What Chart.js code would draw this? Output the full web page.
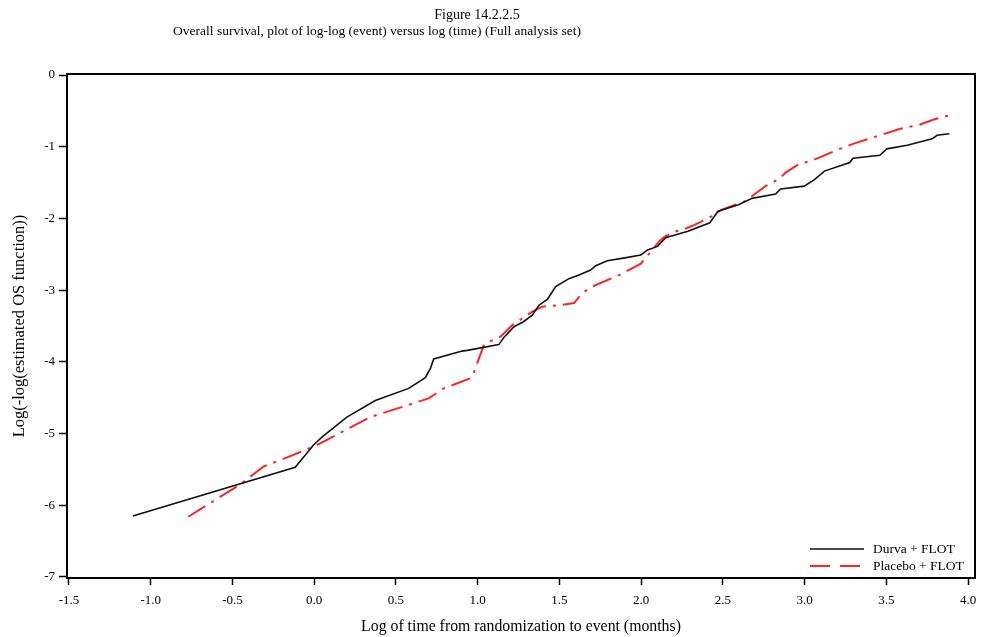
<!DOCTYPE html>
<html>
<head>
<meta charset="utf-8">
<script src="https://cdn.jsdelivr.net/npm/chart.js@4.4.1/dist/chart.umd.min.js"></script>
<style>
html,body{margin:0;padding:0;background:#fff;}
#wrap{width:981px;height:637px;position:relative;}
</style>
</head>
<body>
<div id="wrap"><canvas id="c" width="981" height="637"></canvas></div>
<script>
const titleLines = ['Figure 14.2.2.5', 'Overall survival, plot of log-log (event) versus log (time) (Full analysis set)'];
const seriesNames = ['Durva + FLOT', 'Placebo + FLOT'];
const xAxisTitle = 'Log of time from randomization to event (months)';
const yAxisTitle = 'Log(-log(estimated OS function))';

const durvaX = [-1.109, -0.116, -0.004, 0.047, 0.2, 0.374, 0.578, 0.68, 0.711, 0.731, 0.905, 0.936, 1.129, 1.16, 1.222, 1.28, 1.334, 1.375, 1.426, 1.477, 1.558, 1.62, 1.691, 1.722, 1.793, 1.9, 1.998, 2.039, 2.1, 2.15, 2.286, 2.42, 2.47, 2.595, 2.678, 2.822, 2.853, 2.997, 3.06, 3.121, 3.276, 3.296, 3.46, 3.503, 3.627, 3.78, 3.81, 3.885];
const durvaY = [-6.15, -5.47, -5.16, -5.05, -4.77, -4.54, -4.37, -4.22, -4.09, -3.96, -3.85, -3.84, -3.76, -3.66, -3.51, -3.44, -3.35, -3.21, -3.13, -2.95, -2.84, -2.79, -2.72, -2.66, -2.59, -2.55, -2.51, -2.44, -2.39, -2.27, -2.18, -2.06, -1.9, -1.81, -1.72, -1.66, -1.59, -1.55, -1.46, -1.34, -1.22, -1.16, -1.12, -1.03, -0.98, -0.89, -0.84, -0.82];

const placeboX = [-0.77, -0.453, -0.31, -0.075, 0.016, 0.343, 0.7, 0.792, 0.966, 1.0, 1.037, 1.048, 1.14, 1.211, 1.334, 1.395, 1.507, 1.589, 1.64, 1.701, 1.865, 1.998, 2.049, 2.11, 2.14, 2.2, 2.273, 2.327, 2.45, 2.49, 2.636, 2.76, 2.843, 2.884, 2.966, 3.049, 3.193, 3.296, 3.42, 3.585, 3.707, 3.79, 3.905];
const placeboY = [-6.16, -5.71, -5.46, -5.25, -5.16, -4.77, -4.51, -4.37, -4.22, -4.0, -3.77, -3.74, -3.65, -3.49, -3.3, -3.23, -3.21, -3.18, -3.04, -2.95, -2.79, -2.63, -2.49, -2.32, -2.26, -2.19, -2.14, -2.09, -1.95, -1.88, -1.76, -1.55, -1.45, -1.36, -1.24, -1.19, -1.05, -0.96, -0.87, -0.75, -0.69, -0.62, -0.55];

const xTickValues = [-1.5, -1.0, -0.5, 0.0, 0.5, 1.0, 1.5, 2.0, 2.5, 3.0, 3.5, 4.0];
const xTickLabels = ['-1.5', '-1.0', '-0.5', '0.0', '0.5', '1.0', '1.5', '2.0', '2.5', '3.0', '3.5', '4.0'];
const yTickValues = [-7, -6, -5, -4, -3, -2, -1, 0];
const yTickLabels = ['-7', '-6', '-5', '-4', '-3', '-2', '-1', '0'];

const FONT = "'Liberation Serif', 'Times New Roman', serif";
Chart.defaults.font.family = FONT;
Chart.defaults.color = '#000';

const toPts = (xs, ys) => xs.map((x, i) => ({x: x, y: ys[i]}));

const decor = {
  id: 'decor',
  afterDraw(chart) {
    const ctx = chart.ctx;
    const a = chart.chartArea;
    ctx.save();
    ctx.strokeStyle = '#000';
    ctx.lineWidth = 2;
    ctx.setLineDash([]);
    ctx.strokeRect(a.left, a.top, a.right - a.left, a.bottom - a.top);
    ctx.fillStyle = '#000';
    ctx.textAlign = 'center';
    ctx.textBaseline = 'middle';
    ctx.font = '14px ' + FONT;
    ctx.fillText(titleLines[0], 477, 15);
    ctx.font = '13.5px ' + FONT;
    ctx.fillText(titleLines[1], 377, 31);
    const ds = chart.data.datasets;
    const rows = [549, 566];
    ds.forEach((d, i) => {
      const y = rows[i];
      ctx.beginPath();
      ctx.strokeStyle = d.borderColor;
      ctx.lineWidth = d.borderWidth;
      ctx.setLineDash(i === 1 ? [20, 10] : []);
      ctx.moveTo(810, y);
      ctx.lineTo(864, y);
      ctx.stroke();
      ctx.setLineDash([]);
      ctx.textAlign = 'left';
      ctx.font = '13.5px ' + FONT;
      ctx.fillText(d.label, 873, y);
    });
    ctx.restore();
  }
};

new Chart(document.getElementById('c'), {
  type: 'scatter',
  data: {
    datasets: [
      {label: seriesNames[0], data: toPts(durvaX, durvaY), showLine: true, borderColor: '#111111', borderWidth: 1.6, pointRadius: 0, tension: 0, fill: false},
      {label: seriesNames[1], data: toPts(placeboX, placeboY), showLine: true, borderColor: '#ff2424', borderWidth: 2, borderDash: [20, 7, 3, 7], pointRadius: 0, tension: 0, fill: false}
    ]
  },
  options: {
    responsive: false,
    animation: false,
    devicePixelRatio: 1,
    layout: {padding: {top: 74, right: 6, left: 0, bottom: 0}},
    plugins: {legend: {display: false}, tooltip: {enabled: false}, title: {display: false}},
    scales: {
      x: {
        type: 'linear', min: -1.512, max: 4.042,
        afterBuildTicks: s => { s.ticks = xTickValues.map(v => ({value: v})); },
        afterFit: s => { s.height = 59; s.paddingLeft = 0; s.paddingRight = 0; },
        ticks: {autoSkip: false, maxRotation: 0, padding: 8, color: '#000', font: {size: 13}, callback: (v, i) => xTickLabels[i]},
        grid: {drawOnChartArea: false, drawTicks: true, tickLength: 7, tickColor: '#000', tickWidth: 1.5},
        border: {display: true, color: '#000', width: 2},
        title: {display: true, text: xAxisTitle, color: '#000', font: {size: 15.8}, padding: {top: 0, bottom: 1}}
      },
      y: {
        type: 'linear', min: -7.014, max: 0.014,
        afterBuildTicks: s => { s.ticks = yTickValues.map(v => ({value: v})); },
        afterFit: s => { s.width = 67; s.paddingTop = 0; s.paddingBottom = 0; },
        ticks: {autoSkip: false, padding: 4, color: '#000', font: {size: 13}, callback: (v, i) => yTickLabels[i]},
        grid: {drawOnChartArea: false, drawTicks: true, tickLength: 8, tickColor: '#000', tickWidth: 1.5},
        border: {display: true, color: '#000', width: 2},
        title: {display: true, text: yAxisTitle, color: '#000', font: {size: 16.5}, padding: {top: 10, bottom: 0}}
      }
    }
  },
  plugins: [decor]
});
</script>
</body>
</html>
